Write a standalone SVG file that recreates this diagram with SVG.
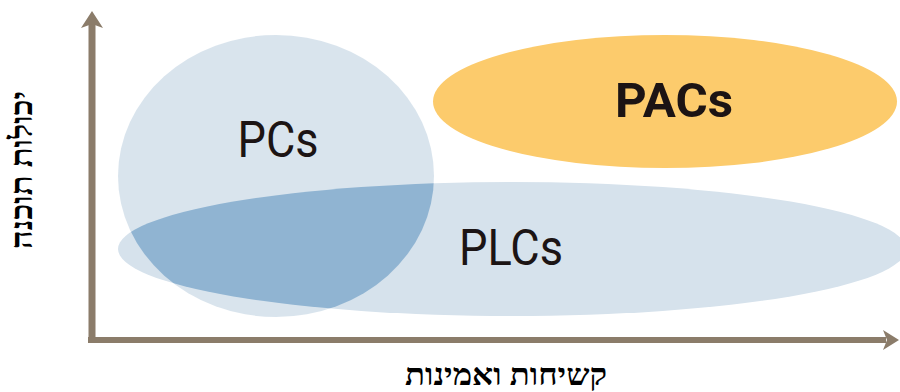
<svg xmlns="http://www.w3.org/2000/svg" width="900" height="392" viewBox="0 0 900 392">
  <style>
    .axis { stroke: #8b7c6a; fill: none; }
    .head { fill: #8b7c6a; }
    .blob { fill: #d6e2ec; }
    .label { font-family: Roboto, "Liberation Sans", sans-serif; fill: #1c1414; text-anchor: middle; }
    .title { font-family: "Liberation Serif", "DejaVu Serif", serif; font-weight: bold; fill: #000; text-anchor: middle; }
  </style>
  <defs>
    <clipPath id="pc-clip">
      <ellipse cx="276" cy="176" rx="158" ry="141"/>
    </clipPath>
  </defs>
  <rect width="900" height="392" fill="#ffffff"/>

  <!-- axes -->
  <g id="connectors">
    <line class="axis" x1="92" y1="24" x2="92" y2="343" stroke-width="7"/>
    <polygon class="head" points="92,11 103,28 92,24 81,28"/>
    <line class="axis" x1="88" y1="340" x2="886" y2="340" stroke-width="6"/>
    <polygon class="head" points="899,340 883,350 887,340 883,330"/>
  </g>

  <!-- PLC region -->
  <g id="plcs">
    <ellipse class="blob" cx="512" cy="249" rx="394" ry="67"/>
  </g>

  <!-- PC region, with the shared area in a deeper blue -->
  <g id="pcs">
    <ellipse class="blob" cx="276" cy="176" rx="158" ry="141" opacity="0.93"/>
    <ellipse cx="512" cy="249" rx="394" ry="67" fill="#90b4d2" clip-path="url(#pc-clip)"/>
    <text class="label" x="278" y="157" font-size="50" textLength="81" lengthAdjust="spacingAndGlyphs">PCs</text>
  </g>

  <g id="plcs-label">
    <text class="label" x="511" y="265" font-size="50" textLength="104" lengthAdjust="spacingAndGlyphs">PLCs</text>
  </g>

  <!-- PAC region -->
  <g id="pacs">
    <ellipse cx="665" cy="101.5" rx="232" ry="66.5" fill="#fccb6c"/>
    <text class="label" x="674" y="117" font-size="48" font-weight="bold" textLength="118" lengthAdjust="spacingAndGlyphs">PACs</text>
  </g>

  <!-- axis titles -->
  <g id="y-title">
    <text class="title" transform="translate(32,170) rotate(-90)" font-size="31" textLength="158" lengthAdjust="spacingAndGlyphs">יכולות תוכנה</text>
  </g>
  <g id="x-title">
    <text class="title" x="506" y="385" font-size="30" textLength="202" lengthAdjust="spacingAndGlyphs">קשיחות ואמינות</text>
  </g>
</svg>
